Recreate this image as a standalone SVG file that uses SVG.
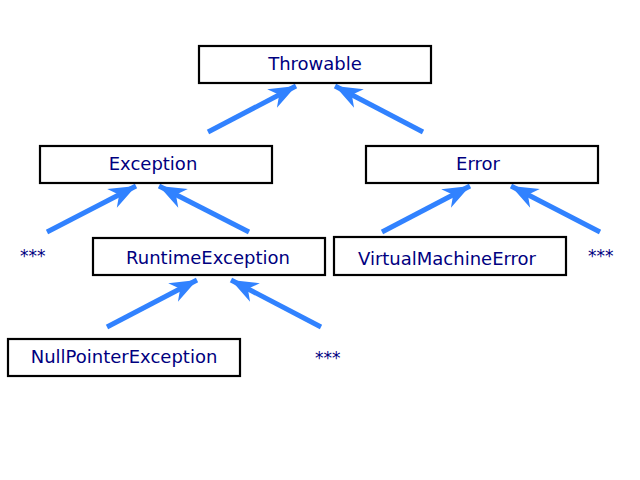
<svg xmlns="http://www.w3.org/2000/svg" width="640" height="480" viewBox="0 0 640 480">
<style>
.box{fill:#fff;stroke:#000;stroke-width:2.2}
.lbl{font-family:"DejaVu Sans",sans-serif;font-size:18px;fill:#00007f;text-anchor:middle}
.st{font-family:"DejaVu Sans",sans-serif;font-size:17px;fill:#00007f}
.edge{stroke:#3182ff;stroke-width:5;fill:none;marker-end:url(#ah)}
</style>
<defs>
<marker id="ah" markerUnits="userSpaceOnUse" viewBox="-28 -12 30 24" refX="0" refY="0" markerWidth="30" markerHeight="24" orient="auto">
<path d="M0,0 L-27,-10.5 L-19,0 L-27,10.5 Z" fill="#3182ff"/>
</marker>
</defs>
<rect width="640" height="480" fill="#fff"/>
<g id="edges">
<line class="edge" x1="208" y1="132" x2="296" y2="86"/>
<line class="edge" x1="423" y1="132" x2="335" y2="86"/>
<line class="edge" x1="47" y1="232" x2="136" y2="186"/>
<line class="edge" x1="249" y1="232" x2="159" y2="186"/>
<line class="edge" x1="382" y1="232" x2="470" y2="186"/>
<line class="edge" x1="600" y1="232" x2="511" y2="186"/>
<line class="edge" x1="107" y1="327" x2="197" y2="280"/>
<line class="edge" x1="321" y1="327" x2="231" y2="280"/>
</g>
<g id="throwable"><rect class="box" x="199" y="46" width="232" height="37"/><text class="lbl" x="315" y="70">Throwable</text></g>
<g id="exception"><rect class="box" x="40" y="146" width="232" height="37"/><text class="lbl" x="153" y="170">Exception</text></g>
<g id="error"><rect class="box" x="366" y="146" width="232" height="37"/><text class="lbl" x="478" y="170">Error</text></g>
<g id="runtimeexception"><rect class="box" x="93" y="238" width="232" height="37"/><text class="lbl" x="208" y="264">RuntimeException</text></g>
<g id="virtualmachineerror"><rect class="box" x="334" y="237" width="232" height="38"/><text class="lbl" x="447" y="265">VirtualMachineError</text></g>
<g id="nullpointerexception"><rect class="box" x="8" y="339" width="232" height="37"/><text class="lbl" x="124" y="363">NullPointerException</text></g>
<g id="more1"><text class="st" x="20" y="262">***</text></g>
<g id="more2"><text class="st" x="588" y="262">***</text></g>
<g id="more3"><text class="st" x="315" y="364">***</text></g>
</svg>
